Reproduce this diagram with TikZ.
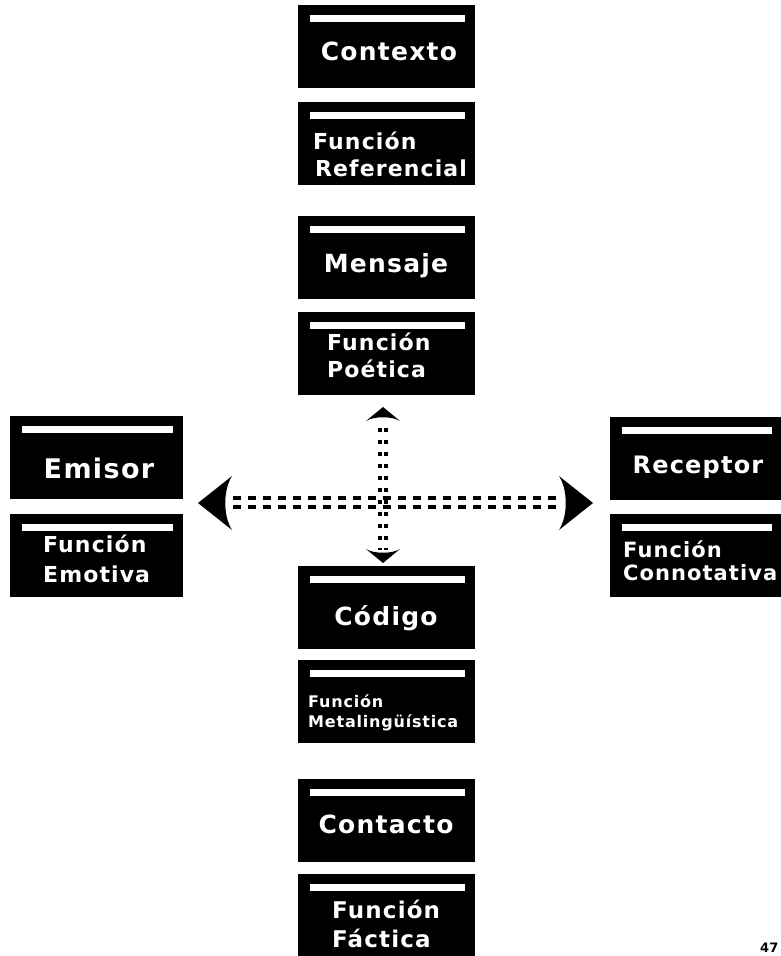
\documentclass[tikz,border=0pt]{standalone}
\usepackage{fontspec}
\newfontfamily\boxfont{DejaVu Sans}[LetterSpace=5]
\newfontfamily\numfont{DejaVu Sans}
\newcommand\fsz[1]{\boxfont\bfseries\fontsize{#1}{#1}\selectfont}
\begin{document}
\begin{tikzpicture}[x=1pt,y=-1pt,
  panel/.style={rectangle, fill=black, draw=none, inner sep=0pt, anchor=north west,
    minimum width=#1, minimum height=83pt,
    path picture={\fill[white] ([xshift=12pt,yshift=-10pt]path picture bounding box.north west)
      rectangle ([xshift=-10pt,yshift=-17pt]path picture bounding box.north east);}},
  panel/.default=177pt,
  big/.style={text=white, inner sep=0pt, font=\fsz{25}},
  mid/.style={text=white, inner sep=0pt, font=\fsz{22}},
  small/.style={text=white, inner sep=0pt, font=\fsz{16}},
  dashline/.style={line width=3.3pt, dash pattern=on 8pt off 7pt},
  dotline/.style={line width=3.5pt, dash pattern=on 4pt off 8pt},
  head/.style={fill=black, draw=none}
]
\useasboundingbox (0,0) rectangle (780,956);
\fill[white] (0,0) rectangle (780,956);

% centre column
\node[panel] (ctx) at (298,5) {};
\node[panel] (fref) at (298,102) {};
\node[panel] (men) at (298,216) {};
\node[panel] (fpoe) at (298,312) {};
\node[panel] (cod) at (298,566) {};
\node[panel] (fmet) at (298,660) {};
\node[panel] (con) at (298,779) {};
\node[panel] (ffac) at (298,874) {};
% side columns
\node[panel=173pt] (emi) at (10,416) {};
\node[panel=173pt] (femo) at (10,514) {};
\node[panel=172pt] (rec) at (610,417) {};
\node[panel=172pt] (fcon) at (610,514) {};

% texts
\node[big, anchor=base] (tctx) at (389,60) {Contexto};
\node[mid, anchor=base west] (tfref1) at (313,149) {Función};
\node[mid, anchor=base west] (tfref2) at (315,176) {Referencial};
\node[big, anchor=base] (tmen) at (386,272) {Mensaje};
\node[mid, anchor=base west] (tfpoe1) at (327,350) {Función};
\node[mid, anchor=base west] (tfpoe2) at (327,377) {Poética};
\node[big, anchor=base] (tcod) at (386,625) {Código};
\node[small, anchor=base west] (tfmet1) at (308,707) {Función};
\node[small, anchor=base west] (tfmet2) at (308,727) {Metalingüística};
\node[big, anchor=base] (tcon) at (386,833) {Contacto};
\node[mid, anchor=base west, font=\fsz{23}] (tffac1) at (332,918) {Función};
\node[mid, anchor=base west, font=\fsz{23}] (tffac2) at (332,947) {Fáctica};
\node[big, anchor=base, font=\fsz{27}] (temi) at (99,478) {Emisor};
\node[mid, anchor=base west] (tfemo1) at (43,552) {Función};
\node[mid, anchor=base west] (tfemo2) at (43,582) {Emotiva};
\node[big, anchor=base, font=\fsz{24}] (trec) at (698,473) {Receptor};
\node[mid, anchor=base west, font=\fsz{21}] (tfcon1) at (623,557) {Función};
\node[mid, anchor=base west, font=\fsz{21}] (tfcon2) at (623,580) {Connotativa};

% arrow tips
\coordinate (tipL) at (198,503);
\coordinate (tipR) at (593,503);
\coordinate (tipT) at (383,407);
\coordinate (tipB) at (383,563);
\fill[head] (tipL) -- (232,476) .. controls (223,490) and (223,516) .. (232,530) -- cycle;
\fill[head] (tipR) -- (559,476) .. controls (568,490) and (568,516) .. (559,530) -- cycle;
\fill[head] (tipT) -- (400,421) .. controls (392,416) and (374,416) .. (366,421) -- cycle;
\fill[head] (tipB) -- (400,549) .. controls (392,554) and (374,554) .. (366,549) -- cycle;

% connectors
\coordinate (hL1) at (233,498); \coordinate (hR1) at (556,498);
\coordinate (hL2) at (233,507); \coordinate (hR2) at (556,507);
\coordinate (vT1) at (380,428); \coordinate (vB1) at (380,550);
\coordinate (vT2) at (386,428); \coordinate (vB2) at (386,550);
\draw[dashline] (hL1) -- (hR1);
\draw[dashline] (hL2) -- (hR2);
\draw[dotline] (vT1) -- (vB1);
\draw[dotline] (vT2) -- (vB2);

\node[anchor=base west, inner sep=0pt, font=\numfont\bfseries\fontsize{13}{13}\selectfont] (pg) at (760,952) {47};
\end{tikzpicture}
\end{document}
